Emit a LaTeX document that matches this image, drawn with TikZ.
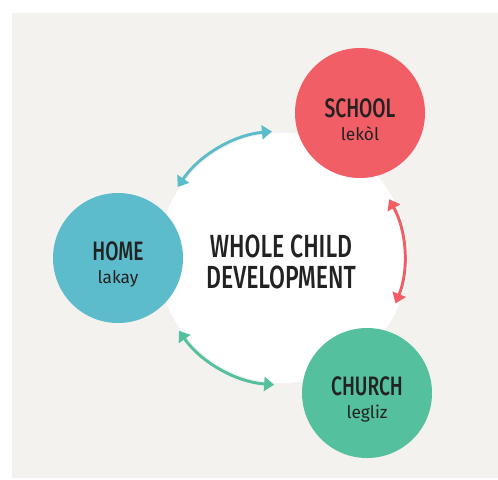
\documentclass[tikz,border=0pt]{standalone}
\usepackage{fontspec}
\setmainfont{Fira Sans}
\newfontfamily\headfont[FakeStretch=0.72, UprightFont=* Medium]{Fira Sans}
\usetikzlibrary{arrows.meta}
\definecolor{paper}{HTML}{F3F2EE}
\definecolor{ink}{HTML}{222222}
\definecolor{schoolred}{HTML}{F25E66}
\definecolor{homeblue}{HTML}{5DBCCB}
\definecolor{churchgreen}{HTML}{55C09D}
\tikzset{
  hub/.style={circle, fill=#1, minimum size=97.5pt, inner sep=0pt, align=center, text=ink},
  link/.style={draw=#1, line width=2.2pt, {Triangle[length=7.5pt,width=10.5pt,fill=#1]}-{Triangle[length=7.5pt,width=10.5pt,fill=#1]}}
}
\newcommand{\hubtext}[2]{{\headfont\fontsize{20}{20}\selectfont\rule{0pt}{24pt}#1}\\[5pt]{\fontsize{13}{13}\selectfont #2}}
\begin{document}
\begin{tikzpicture}[x=0.75pt,y=0.75pt]
\useasboundingbox (0,0) rectangle (498,-479);
\fill[paper] (12,-13) rectangle (498,-478);
% centre and the three hubs
\node[circle, fill=white, minimum size=187.5pt, inner sep=0pt] (whole) at (283,-258) {};
\node[text=ink, align=center, font=\headfont\fontsize{24}{23.25}\selectfont] (title) at (281,-262) {WHOLE CHILD\\DEVELOPMENT};
\node[hub=schoolred] (school) at (360,-113) {\hubtext{SCHOOL}{lekòl}};
\node[hub=homeblue] (home) at (118,-258) {\hubtext{HOME}{lakay}};
\node[hub=churchgreen] (church) at (367,-393) {\hubtext{CHURCH}{legliz}};
% links around the centre
\draw[link=homeblue] ([shift={(146:95.25pt)}]whole.center) arc[start angle=146, end angle=95, radius=95.25pt];
\draw[link=schoolred] ([shift={(29:91pt)}]whole.center) arc[start angle=29, end angle=-22, radius=91pt];
\draw[link=churchgreen] ([shift={(215:95.25pt)}]whole.center) arc[start angle=215, end angle=266, radius=95.25pt];
\end{tikzpicture}
\end{document}
